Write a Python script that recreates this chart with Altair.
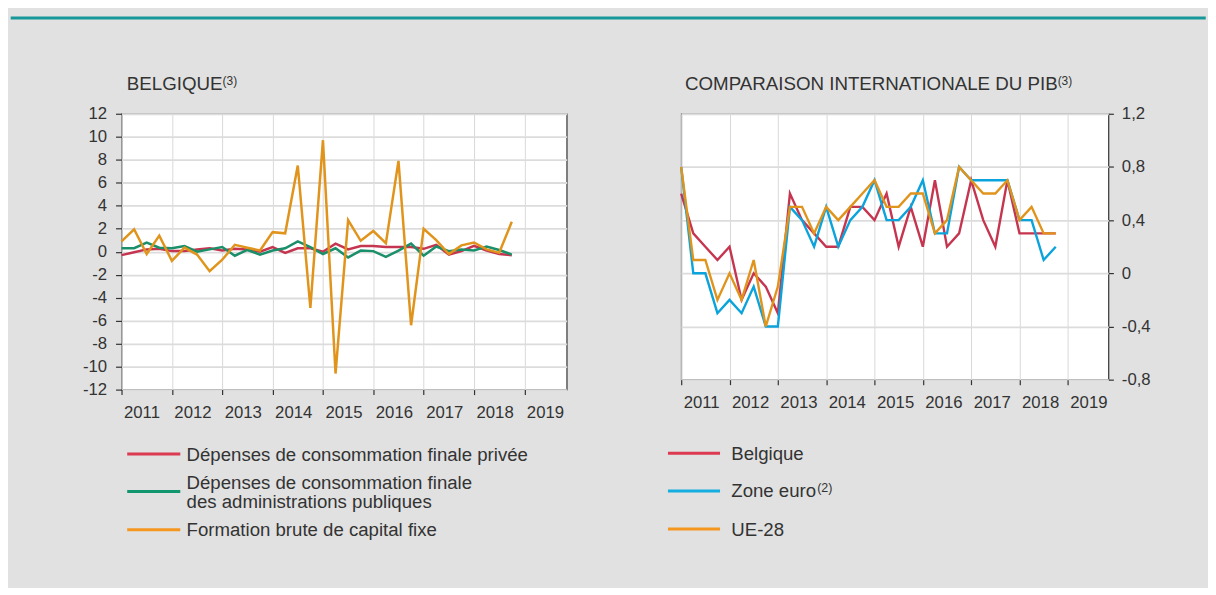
import altair as alt
import pandas as pd

# ---------------- data ----------------
years = [2011, 2012, 2013, 2014, 2015, 2016, 2017, 2018]
quarter_offsets = [0.0, 0.25, 0.5, 0.75]
periods = [y + q for y in years for q in quarter_offsets]

x_ticks = [2011, 2012, 2013, 2014, 2015, 2016, 2017, 2018, 2019]
left_y_ticks = [-12, -10, -8, -6, -4, -2, 0, 2, 4, 6, 8, 10, 12]
right_y_ticks = [-0.8, -0.4, 0, 0.4, 0.8, 1.2]

left_names = [
    "Dépenses de consommation finale privée",
    "Dépenses de consommation finale des administrations publiques",
    "Formation brute de capital fixe",
]
left_label_lines = [
    ["Dépenses de consommation finale privée"],
    ["Dépenses de consommation finale", "des administrations publiques"],
    ["Formation brute de capital fixe"],
]
left_colors = ["#c6354f", "#1a8f6a", "#e1941c"]
left_legend_colors = ["#dc3a50", "#12966e", "#f5961f"]

privee = [-0.3, -0.05, 0.2, 0.25, 0.05, 0.05, 0.2, 0.3, 0.1, 0.25, 0.2, 0.0,
          0.4, -0.1, 0.3, 0.3, 0.0, 0.7, 0.2, 0.5, 0.5, 0.4, 0.4, 0.4,
          0.25, 0.6, -0.25, 0.05, 0.5, 0.1, -0.2, -0.3]
publique = [0.3, 0.3, 0.8, 0.35, 0.3, 0.5, 0.0, 0.2, 0.4, -0.35, 0.15, -0.25,
            0.1, 0.3, 0.9, 0.4, -0.2, 0.3, -0.5, 0.1, 0.05, -0.45, 0.1, 0.7,
            -0.35, 0.45, 0.05, 0.2, 0.1, 0.45, 0.15, -0.25]
fbcf = [0.9, 1.95, -0.2, 1.4, -0.8, 0.35, -0.25, -1.7, -0.7, 0.6, 0.35, 0.1,
        1.7, 1.6, 7.5, -4.9, 9.7, -10.6, 2.75, 0.95, 1.8, 0.75, 7.9, -6.4,
        2.0, 1.0, -0.2, 0.55, 0.8, 0.2, -0.1, 2.6]

right_names = ["Belgique", "Zone euro", "UE-28"]
right_superscripts = ["", "(2)", ""]
right_colors = ["#c6354f", "#0aa3dc", "#e1941c"]
right_legend_colors = ["#dc3a50", "#14ade0", "#f5961f"]

belgique = [0.6, 0.3, 0.2, 0.1, 0.2, -0.2, 0.0, -0.1, -0.3, 0.6, 0.4, 0.3,
            0.2, 0.2, 0.5, 0.5, 0.4, 0.6, 0.2, 0.5, 0.2, 0.7, 0.2, 0.3,
            0.7, 0.4, 0.2, 0.7, 0.3, 0.3, 0.3, 0.3]
zone_euro = [0.8, 0.0, 0.0, -0.3, -0.2, -0.3, -0.1, -0.4, -0.4, 0.5, 0.4, 0.2,
             0.5, 0.2, 0.4, 0.5, 0.7, 0.4, 0.4, 0.5, 0.7, 0.3, 0.3, 0.8,
             0.7, 0.7, 0.7, 0.7, 0.4, 0.4, 0.1, 0.2]
ue28 = [0.8, 0.1, 0.1, -0.2, 0.0, -0.2, 0.1, -0.4, -0.1, 0.5, 0.5, 0.3,
        0.5, 0.4, 0.5, 0.6, 0.7, 0.5, 0.5, 0.6, 0.6, 0.3, 0.4, 0.8,
        0.7, 0.6, 0.6, 0.7, 0.4, 0.5, 0.3, 0.3]

left_title = "BELGIQUE"
right_title = "COMPARAISON INTERNATIONALE DU PIB"
title_superscript = "(3)"


def long_frame(names, series):
    rows = []
    for name, vals in zip(names, series):
        for t, v in zip(periods, vals):
            rows.append({"t": t, "v": v, "serie": name})
    return pd.DataFrame(rows)


df_left = long_frame(left_names, [privee, publique, fbcf])
df_right = long_frame(right_names, [belgique, zone_euro, ue28])
one = pd.DataFrame({"k": [0]})

FONT = "Liberation Sans"
TXT = "#333333"
TICK_FS = 16.8
LEG_FS = 18.7
TITLE_FS = 18.8
x_domain = [2011, 2019.84]


def x_axis():
    return alt.Axis(values=x_ticks, labelExpr="'' + datum.value", labelAlign="left",
                    labelOffset=2, labelFlush=False, labelPadding=9.5, labelFontSize=TICK_FS,
                    labelColor=TXT, labelFont=FONT, tickSize=5, tickColor=TXT, tickWidth=1.2,
                    grid=True, gridColor="#d9d9d9", gridWidth=1, domain=False, title=None)


def text_layer(txt, x, y, size, align="left"):
    return alt.Chart(one).mark_text(align=align, baseline="alphabetic", font=FONT,
                                    fontSize=size, color=TXT, lineHeight=19).encode(
        x=alt.value(x), y=alt.value(y), text=alt.value(txt))


def legend_layers(colors, labels, sym_x, sym_x2, text_x, sym_ys, base_ys):
    layers = []
    for c, lab, sy, by in zip(colors, labels, sym_ys, base_ys):
        layers.append(alt.Chart(one).mark_rule(color=c, strokeWidth=3).encode(
            x=alt.value(sym_x), x2=alt.value(sym_x2), y=alt.value(sy)))
        layers.append(text_layer(lab, text_x, by, LEG_FS))
    return layers


# ---------------- left chart ----------------
left_lines = alt.Chart(df_left).mark_line(strokeWidth=2.5).encode(
    x=alt.X("t:Q", scale=alt.Scale(domain=x_domain, nice=False, zero=False), axis=x_axis()),
    y=alt.Y("v:Q", scale=alt.Scale(domain=[-12, 12], nice=False),
            axis=alt.Axis(values=left_y_ticks, labelExpr="'' + datum.value", labelFontSize=TICK_FS,
                          labelColor=TXT, labelFont=FONT, labelPadding=9, tickSize=6,
                          tickColor=TXT, tickWidth=1.2, grid=True, gridColor="#dcdcdc",
                          gridWidth=1.8, domain=False, title=None)),
    color=alt.Color("serie:N", sort=left_names,
                    scale=alt.Scale(domain=left_names, range=left_colors), legend=None),
)

teal_rule = alt.Chart(one).mark_rule(color="#16979a", strokeWidth=3).encode(
    x=alt.value(-111.3), x2=alt.value(1088.7), y=alt.value(-96.2)
)

left_layers = [teal_rule, left_lines,
               text_layer(left_title, 5.3, -23.4, TITLE_FS),
               text_layer(title_superscript, 101.5, -28.5, 12)]
left_layers += legend_layers(left_legend_colors, left_label_lines, 5.7, 59, 65.3,
                             [341.6, 379.3, 417.6], [348.2, 376.6, 424.2])

left = alt.layer(*left_layers).properties(width=447, height=277)

# ---------------- right chart ----------------
right_lines = alt.Chart(df_right).mark_line(strokeWidth=2.4).encode(
    x=alt.X("t:Q", scale=alt.Scale(domain=x_domain, nice=False, zero=False), axis=x_axis()),
    y=alt.Y("v:Q", scale=alt.Scale(domain=[-0.8, 1.2], nice=False, zero=False),
            axis=alt.Axis(orient="right", values=right_y_ticks,
                          labelExpr="replace('' + datum.value, '.', ',')", labelFontSize=TICK_FS,
                          labelColor=TXT, labelFont=FONT, labelPadding=8, tickSize=5,
                          tickColor=TXT, tickWidth=1.2, grid=True, gridColor="#dcdcdc",
                          gridWidth=1.8, domain=False, title=None)),
    color=alt.Color("serie:N", sort=right_names,
                    scale=alt.Scale(domain=right_names, range=right_colors), legend=None),
)

right_layers = [right_lines,
                text_layer(right_title, 3.8, -24, TITLE_FS),
                text_layer(title_superscript, 378, -29.1, 12)]
right_layers += legend_layers(right_legend_colors, [[n] for n in right_names], -13.3, 39, 50.3,
                              [341, 378.7, 417], [347.6, 385.3, 423.6])
right_layers.append(text_layer(right_superscripts[1], 136.5, 380.2, 12.5))

right = alt.layer(*right_layers).properties(width=429, height=267)

chart = alt.hconcat(left, right, spacing=115, bounds="flush").resolve_scale(
    color="independent"
).properties(
    background="#e1e1e1",
    padding={"left": 0, "top": 6, "right": 0, "bottom": 46},
).configure(font=FONT).configure_view(stroke="#333333", strokeWidth=1.2, fill="white")

chart.save("out.html", embed_options={"renderer": "svg", "actions": False})
